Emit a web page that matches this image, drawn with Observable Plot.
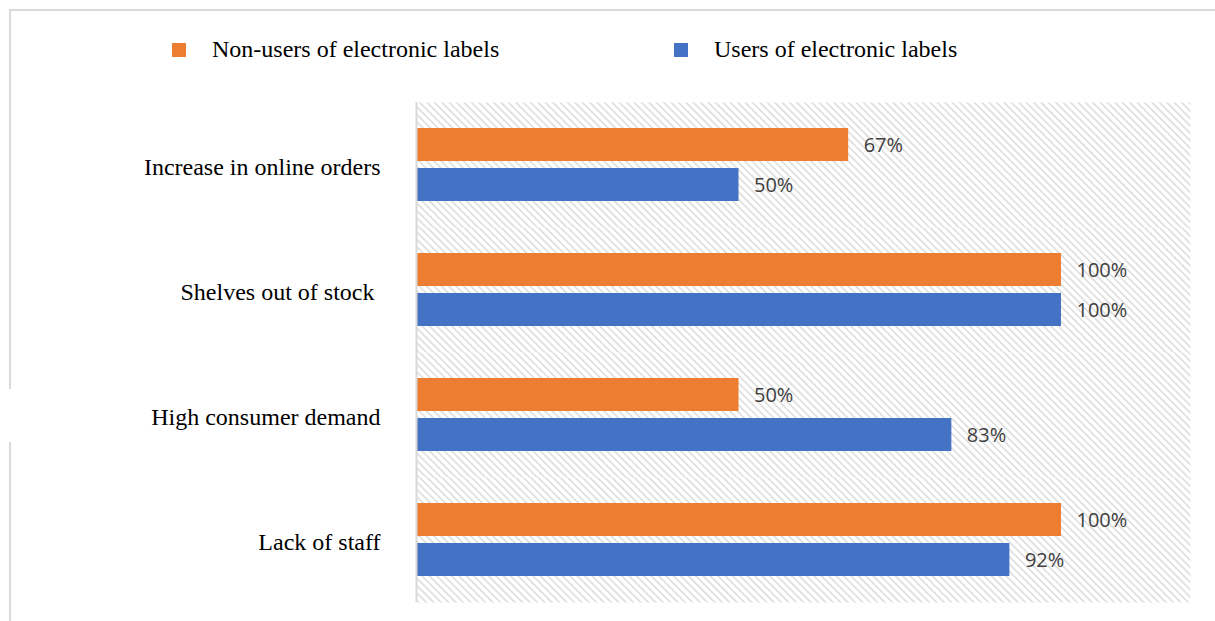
<!DOCTYPE html>
<html>
<head>
<meta charset="utf-8">
<script src="https://cdn.jsdelivr.net/npm/d3@7"></script>
<script src="https://cdn.jsdelivr.net/npm/@observablehq/plot@0.6"></script>
<style>
  html, body { margin: 0; padding: 0; background: #fff; }
  #wrap { position: relative; width: 1215px; height: 621px; overflow: hidden; }
  .bt { position: absolute; left: 9px; top: 9px; width: 1206px; height: 0; border-top: 2px solid #d9d9d9; }
  .bl1 { position: absolute; left: 9px; top: 9px; width: 0; height: 380px; border-left: 2px solid #d9d9d9; }
  .bl2 { position: absolute; left: 9px; top: 442px; width: 0; height: 179px; border-left: 2px solid #d9d9d9; }
  #legend { position: absolute; top: 36px; left: 0; font-family: "Liberation Serif", serif; font-size: 24px; color: #000; }
  .li { position: absolute; white-space: nowrap; display: flex; align-items: center; }
  .sw { width: 14px; height: 14px; display: inline-block; }
  #chart { position: absolute; left: 0; top: 0; }
</style>
</head>
<body>
<div id="wrap">
  <div class="bt"></div><div class="bl1"></div><div class="bl2"></div>
  <div id="legend"></div>
  <div id="chart"></div>
</div>
<script>
const categories = ["Increase in online orders", "Shelves out of stock\u00a0", "High consumer demand", "Lack of staff"];
const seriesNames = ["Non-users of electronic labels", "Users of electronic labels"];
const nonUsers = [67, 100, 50, 100];
const users = [50, 100, 83, 92];
const seriesColors = ["#ED7D31", "#4472C4"];

const data = [];
categories.forEach((c, i) => {
  data.push({category: c, series: seriesNames[0], value: nonUsers[i]});
  data.push({category: c, series: seriesNames[1], value: users[i]});
});

// legend
const legend = document.getElementById("legend");
const legendX = [172, 674];
seriesNames.forEach((s, i) => {
  const d = document.createElement("div");
  d.className = "li";
  d.style.left = legendX[i] + "px";
  d.innerHTML = `<span class="sw" style="background:${seriesColors[i]}"></span><span style="margin-left:26px">${s}</span>`;
  legend.appendChild(d);
});

const H = 621, MT = 100, MB = 18;
const facetH = (H - MT - MB) / categories.length;

const chart = Plot.plot({
  width: 1215,
  height: H,
  marginTop: MT,
  marginBottom: MB,
  marginLeft: 416,
  marginRight: 25,
  style: {fontFamily: "Liberation Serif, serif", fontSize: "24px", color: "#000", background: "transparent"},
  x: {domain: [0, 120], axis: null},
  y: {domain: seriesNames, paddingInner: 0.17, paddingOuter: 0.62, axis: null},
  fy: {domain: categories, padding: 0, axis: "left", label: null, tickSize: 0, tickPadding: 36},
  color: {domain: seriesNames, range: seriesColors},
  marks: [
    Plot.frame({fill: "url(#hatch)", stroke: "none"}),
    Plot.barX(data, {fy: "category", y: "series", x: "value", fill: "series"}),
    Plot.text(data, {
      fy: "category", y: "series", x: "value",
      text: d => d.value + "%",
      textAnchor: "start", dx: 15, dy: 1,
      fill: "#404040",
      fontFamily: "Open Sans, sans-serif", fontSize: 20
    }),
    Plot.ruleX([0], {stroke: "#d9d9d9", strokeWidth: 2})
  ]
});

// diagonal hatch whose vertical period divides the facet height (seamless)
const vPeriod = facetH / 17;
const perp = vPeriod / Math.SQRT2;
const svg = d3.select(chart);
const defs = svg.insert("defs", ":first-child");
const pat = defs.append("pattern")
  .attr("id", "hatch")
  .attr("patternUnits", "userSpaceOnUse")
  .attr("width", perp).attr("height", perp)
  .attr("patternTransform", "rotate(-45)");
pat.append("rect")
  .attr("x", 0).attr("y", 0).attr("width", perp * 0.3).attr("height", perp)
  .attr("fill", "#dcdcdc");

// nudge facet tick labels slightly down to match reference baseline
svg.selectAll("[aria-label='fy-axis'] text, [aria-label='fy-axis tick label'] text").attr("dy", "0.08em");

document.getElementById("chart").appendChild(chart);
</script>
</body>
</html>
